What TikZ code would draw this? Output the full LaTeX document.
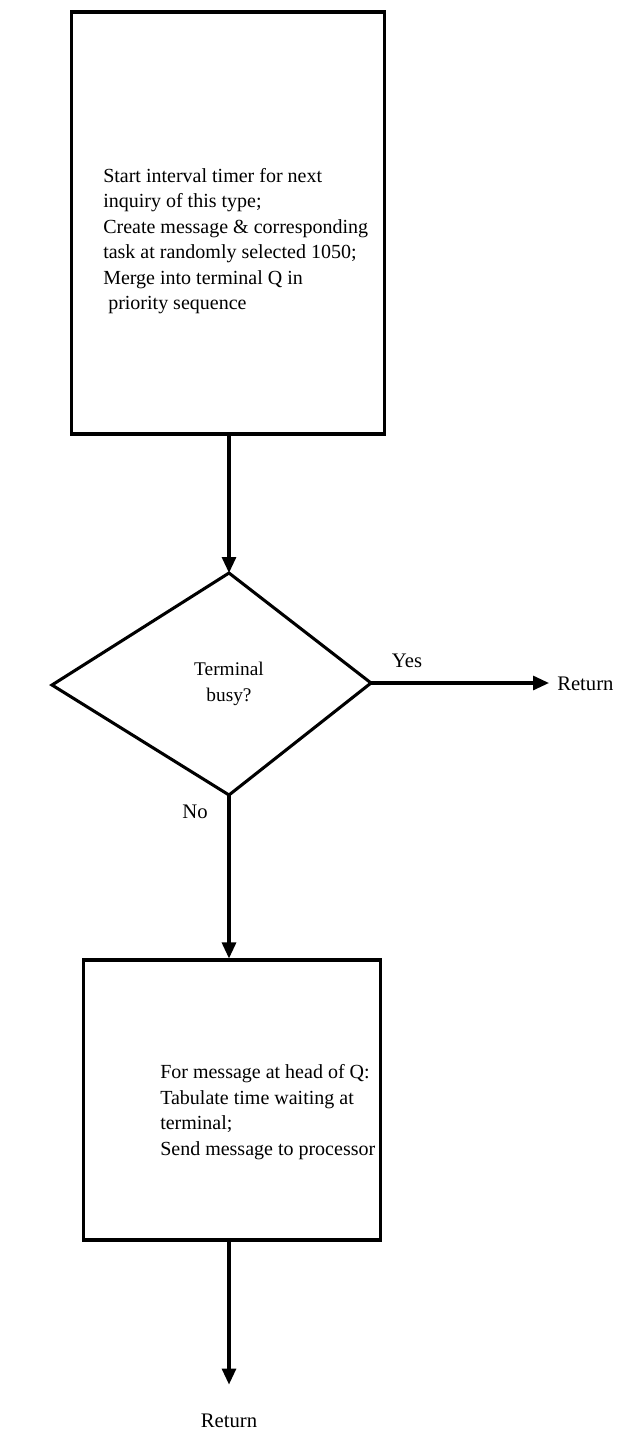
\documentclass[tikz,border=0pt]{standalone}
\usepackage{fontspec}
\setmainfont{Liberation Serif}
\usetikzlibrary{arrows.meta}
\begin{document}
\begin{tikzpicture}[x=0.75pt,y=-0.75pt,
  proc/.style={draw,rectangle,line width=2.3pt,inner sep=0pt},
  decline/.style={draw,line width=2.3pt},
  dtext/.style={inner sep=0pt,align=center,font=\fontsize{14.5}{19.1}\selectfont},
  txt/.style={inner sep=0pt,align=left,font=\fontsize{15}{19.1}\selectfont},
  lbl/.style={inner sep=0pt,font=\fontsize{15.5}{19}\selectfont},
  flow/.style={-{Triangle[length=12pt,width=10.5pt]},line width=2.3pt},
]
\useasboundingbox[fill=white] (0,0) rectangle (631,1441);

% top process box
\node[proc,minimum width=234.75pt,minimum height=316.5pt] (box1) at (228,223) {};
\node[txt,anchor=west] (t1) at (103,241) {Start interval timer for next\\
inquiry of this type;\\
Create message \& corresponding\\
task at randomly selected 1050;\\
Merge into terminal Q in\\
\ priority sequence};

% decision (hand-drawn, slightly asymmetric diamond)
\coordinate (dN) at (229,573);
\coordinate (dE) at (371,683);
\coordinate (dS) at (229,795);
\coordinate (dW) at (52,685);
\draw[decline] (dN) -- (dE) -- (dS) -- (dW) -- cycle;
\node[dtext] (dec) at (229,684) {Terminal\\busy?};

% bottom process box
\node[proc,minimum width=222.75pt,minimum height=210pt] (box2) at (232,1100) {};
\node[txt,anchor=west] (t2) at (160,1112) {For message at head of Q:\\
Tabulate time waiting at\\
terminal;\\
Send message to processor};

% return nodes and labels
\node[lbl,anchor=west] (ret1) at (557,684) {Return};
\node[lbl] (ret2) at (229,1421) {Return};
\node[lbl] (yes) at (407,661) {Yes};
\node[lbl] (no) at (195,812) {No};

% connectors
\draw[flow] (box1.south -| dN) -- (dN);
\draw[flow,shorten >=6pt] (dE) -- (ret1.west |- dE);
\draw[flow] (dS) -- (dS |- box2.north);
\draw[flow,shorten >=22pt] (dS |- box2.south) -- (ret2.north);
\end{tikzpicture}
\end{document}
